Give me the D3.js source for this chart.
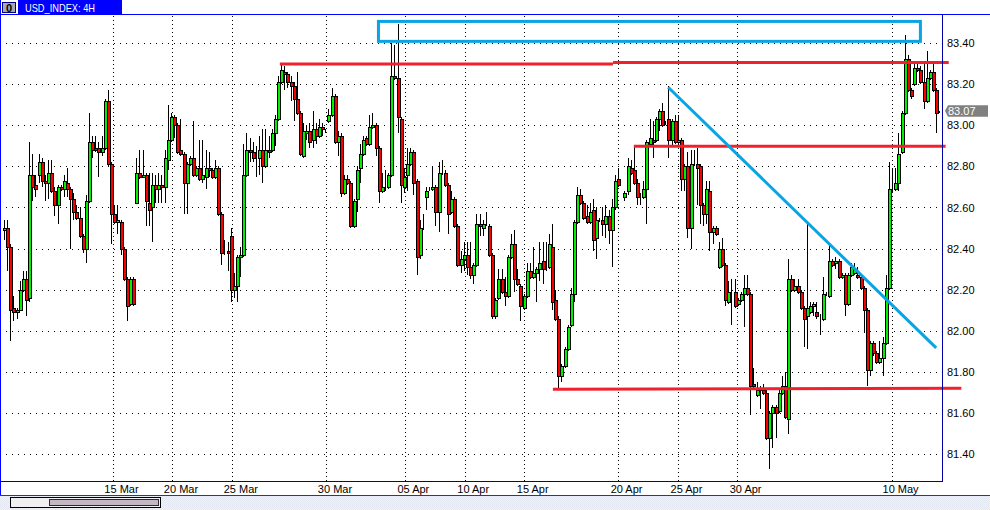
<!DOCTYPE html>
<html>
<head>
<meta charset="utf-8">
<script src="https://cdn.jsdelivr.net/npm/d3@7"></script>
<style>
    html, body { margin: 0; padding: 0; background: #fff; overflow: hidden; }
    svg { display: block; }
    text { font-family: "Liberation Sans", Arial, sans-serif; font-size: 11px; fill: #000; }
    .axis path, .axis line { display: none; }
    .grid path { display: none; }
    .grid line { stroke: #000; stroke-width: 1; shape-rendering: crispEdges; }
    .grid text { display: none; }
</style>
</head>
<body>
<svg id="chart" width="990" height="510"></svg>
<script>
// Candles, one entry per 4H bar
const opens = [82.49,82.50,82.41,82.11,82.09,82.10,82.20,82.25,82.16,82.76,
82.71,82.76,82.82,82.73,82.72,82.77,82.68,82.61,82.70,82.69,
82.72,82.69,82.64,82.58,82.55,82.46,82.40,82.63,82.92,82.89,
82.89,82.87,82.89,83.12,82.81,82.57,82.53,82.53,82.40,82.25,
82.13,82.25,82.62,82.77,82.75,82.76,82.62,82.60,82.71,82.69,
82.71,82.70,82.83,82.93,83.04,83.00,82.88,82.86,82.72,82.81,
82.84,82.76,82.79,82.74,82.75,82.79,82.78,82.75,82.79,82.57,
82.38,82.39,82.46,82.20,82.22,
82.36,82.37,82.76,82.88,82.87,82.84,82.84,82.88,82.80,82.88,
82.88,82.96,83.03,83.21,83.26,83.25,83.21,83.19,83.13,83.06,
82.85,82.96,82.97,82.93,82.98,82.95,82.99,82.98,83.02,83.05,
83.14,82.92,82.95,82.67,82.74,82.72,82.51,82.64,82.79,82.86,
82.94,82.91,82.99,83.00,82.89,82.68,82.70,82.70,82.76,83.24,
83.23,83.03,82.70,82.76,82.81,82.87,82.73,82.37,82.50,82.65,
82.69,82.69,82.70,82.58,82.77,82.77,82.71,82.58,82.64,82.51,
82.32,82.35,82.37,
82.31,82.27,82.32,82.52,82.50,82.52,82.51,82.37,82.07,82.16,82.25,82.19,
82.17,82.36,82.42,82.25,82.22,82.11,82.17,82.29,82.26,82.28,
82.30,82.34,82.30,82.31,82.41,82.15,82.06,81.78,81.83,81.91,
82.03,82.18,82.53,82.66,82.62,82.56,82.53,82.59,82.45,82.54,
82.54,82.52,82.56,82.49,82.60,82.74,82.75,82.65,82.68,82.79,
82.78,82.72,82.65,82.65,82.69,82.91,82.93,82.93,83.03,83.07,
83.01,83.03,82.93,83.02,82.92,82.93,82.74,82.80,82.50,82.81,
82.81,82.80,82.61,82.57,82.68,82.48,82.50,
82.31,82.40,82.32,
82.14,82.19,82.19,82.13,82.15,82.18,82.21,82.18,81.74,81.69,
81.71,81.71,81.70,81.48,81.60,81.63,81.61,81.70,81.73,81.57,
82.25,82.20,82.22,82.19,82.11,82.07,82.09,82.12,82.09,82.07,
82.06,82.18,82.17,82.34,82.33,82.34,82.26,82.27,82.13,82.27,
82.28,82.27,82.26,82.21,82.10,81.81,81.94,81.89,81.85,81.87,
81.94,82.21,82.69,82.69,82.72,82.87,83.06,83.32,83.17,83.20,
83.28,83.27,83.21,83.12,83.23,83.26,83.17,83.06];

const highs = [82.54,82.54,82.42,82.17,82.11,82.24,82.29,82.29,82.92,82.86,
82.76,82.86,82.84,82.76,82.83,82.83,82.70,82.71,82.71,82.76,
82.79,82.70,82.67,82.61,82.60,82.47,82.66,83.06,82.95,82.95,
82.92,82.95,83.13,83.17,82.82,82.61,82.61,82.54,82.41,82.26,
82.26,82.26,82.84,82.88,82.88,82.77,82.77,82.77,82.76,82.77,
82.76,82.88,83.10,83.06,83.05,83.01,83.03,82.87,82.82,82.85,
83.02,82.80,82.93,82.93,82.88,82.87,82.79,82.83,82.80,82.58,
82.44,82.43,82.50,82.28,82.37,
82.41,82.91,82.96,82.94,82.92,82.90,82.95,82.98,82.98,82.95,
82.98,83.05,83.24,83.30,83.29,83.26,83.24,83.21,83.26,83.07,
83.01,83.00,83.01,83.07,83.01,83.03,83.01,82.98,83.08,83.18,
83.15,82.97,82.96,82.76,82.76,82.73,82.64,82.80,82.91,82.95,
82.95,83.05,83.06,83.01,82.90,82.77,82.78,82.77,83.40,83.39,
83.49,83.04,82.79,82.89,82.89,82.88,82.74,82.54,82.57,82.70,
82.70,82.80,82.71,82.82,82.83,82.78,82.72,82.68,82.65,82.52,
82.39,82.43,82.43,
82.43,82.33,82.57,82.57,82.54,82.58,82.52,82.38,82.16,82.30,82.30,82.26,
82.37,82.47,82.49,82.30,82.23,82.18,82.33,82.33,82.41,82.31,
82.43,82.43,82.43,82.47,82.52,82.20,82.07,81.84,81.92,82.03,
82.21,82.54,82.70,82.69,82.63,82.61,82.62,82.64,82.60,82.55,
82.60,82.61,82.59,82.64,82.76,82.79,82.75,82.68,82.84,82.83,
82.90,82.74,82.67,82.73,82.93,83.03,83.02,83.04,83.08,83.11,
83.02,83.19,83.03,83.05,83.05,82.94,82.81,82.87,82.88,82.88,
82.89,82.81,82.62,82.73,82.73,82.51,82.51,
82.43,82.45,82.33,
82.24,82.25,82.25,82.16,82.19,82.27,82.27,82.19,81.82,81.75,
81.73,81.74,81.71,81.61,81.64,81.64,81.71,81.78,81.80,82.35,
82.27,82.25,82.25,82.20,82.12,82.52,82.14,82.14,82.14,82.08,
82.26,82.19,82.42,82.35,82.36,82.35,82.28,82.28,82.28,82.33,
82.33,82.31,82.27,82.22,82.11,81.95,81.95,81.90,81.95,81.97,
82.27,82.82,82.79,82.79,82.96,83.07,83.44,83.34,83.18,83.30,
83.30,83.29,83.30,83.36,83.27,83.31,83.18,83.07];

const lows = [82.44,82.29,81.95,82.05,82.06,82.10,82.19,82.07,82.14,82.63,
82.65,82.72,82.70,82.63,82.64,82.67,82.56,82.52,82.68,82.65,
82.65,82.40,82.54,82.54,82.45,82.38,82.33,82.62,82.84,82.87,
82.75,82.85,82.88,82.80,82.42,82.52,82.47,82.37,82.24,82.05,
82.12,82.12,82.62,82.74,82.75,82.51,82.51,82.43,82.62,82.62,
82.62,82.62,82.78,82.92,82.94,82.86,82.85,82.57,82.57,82.80,
82.75,82.75,82.73,82.72,82.69,82.75,82.74,82.74,82.56,82.32,
82.37,82.29,82.14,82.16,82.14,
82.26,82.36,82.75,82.82,82.82,82.75,82.76,82.72,82.79,82.84,
82.87,82.90,83.02,83.20,83.17,83.18,83.12,83.02,83.05,82.85,
82.84,82.93,82.89,82.89,82.91,82.94,82.95,82.96,83.01,83.04,
82.91,82.85,82.65,82.66,82.71,82.50,82.50,82.58,82.72,82.85,
82.90,82.90,82.98,82.85,82.62,82.67,82.68,82.69,82.75,83.22,
82.96,82.62,82.67,82.68,82.80,82.66,82.27,82.35,82.49,82.59,
82.68,82.68,82.51,82.48,82.76,82.70,82.47,82.57,82.50,82.31,
82.28,82.29,82.27,
82.25,82.23,82.31,82.46,82.46,82.51,82.36,82.06,82.06,82.15,82.18,82.12,
82.16,82.35,82.19,82.22,82.05,82.10,82.16,82.25,82.25,82.14,
82.24,82.23,82.29,82.30,82.10,82.05,81.72,81.75,81.82,81.90,
82.02,82.14,82.52,82.61,82.54,82.52,82.52,82.39,82.35,82.53,
82.46,82.45,82.42,82.31,82.59,82.70,82.75,82.63,82.66,82.76,
82.71,82.61,82.61,82.64,82.52,82.90,82.84,82.92,82.97,82.99,
83.00,82.84,82.90,82.91,82.91,82.68,82.68,82.45,82.40,82.80,
82.61,82.52,82.51,82.52,82.39,82.42,82.46,
82.30,82.31,82.12,
82.13,82.03,82.11,82.12,82.14,82.02,82.17,81.59,81.72,81.68,
81.62,81.69,81.47,81.33,81.43,81.48,81.60,81.69,81.57,81.50,
82.19,82.19,82.18,82.10,81.92,81.91,82.08,82.07,82.06,81.98,
82.05,82.17,82.16,82.31,82.30,82.25,82.25,82.07,82.12,82.26,
82.27,82.25,82.20,81.99,81.73,81.78,81.88,81.84,81.84,81.78,
81.93,82.20,82.67,82.68,82.68,82.86,83.05,83.16,83.13,83.19,
83.26,83.20,83.08,83.11,83.22,83.16,82.96,83.06];

const closes = [82.50,82.41,82.10,82.09,82.10,82.20,82.25,82.15,82.76,82.70,
82.69,82.82,82.73,82.72,82.77,82.68,82.61,82.70,82.69,82.73,
82.69,82.64,82.58,82.55,82.46,82.40,82.63,82.92,82.88,82.88,
82.87,82.89,83.12,82.81,82.57,82.53,82.54,82.40,82.25,82.12,
82.25,82.13,82.77,82.75,82.76,82.63,82.59,82.71,82.69,82.71,
82.70,82.84,82.93,83.04,83.00,82.87,82.86,82.72,82.81,82.84,
82.76,82.79,82.74,82.76,82.79,82.78,82.75,82.79,82.57,82.38,
82.38,82.38,82.20,82.22,82.36,
82.37,82.76,82.88,82.87,82.84,82.84,82.88,82.80,82.88,82.87,
82.96,83.03,83.21,83.27,83.25,83.21,83.19,83.13,83.06,82.86,
82.97,82.97,82.92,82.98,82.95,82.99,82.98,82.98,83.05,83.14,
82.92,82.95,82.67,82.74,82.72,82.51,82.63,82.78,82.86,82.93,
82.91,82.99,83.00,82.89,82.68,82.70,82.70,82.76,83.24,83.23,
83.04,82.71,82.75,82.81,82.87,82.72,82.36,82.50,82.50,82.68,
82.69,82.70,82.58,82.77,82.77,82.71,82.57,82.64,82.51,82.32,
82.35,82.37,82.31,
82.27,82.32,82.52,82.51,82.52,82.52,82.37,82.07,82.15,82.25,82.19,82.17,
82.36,82.42,82.25,82.23,82.12,82.17,82.29,82.26,82.28,82.30,
82.33,82.30,82.30,82.42,82.14,82.06,81.78,81.83,81.91,82.02,
82.18,82.53,82.66,82.62,82.55,82.53,82.58,82.44,82.54,82.54,
82.52,82.56,82.49,82.60,82.73,82.71,82.75,82.67,82.80,82.77,
82.72,82.65,82.65,82.69,82.92,82.94,82.92,83.03,83.07,83.00,
83.01,82.93,83.02,82.92,82.93,82.74,82.80,82.50,82.81,82.81,
82.79,82.61,82.57,82.69,82.48,82.50,82.47,
82.40,82.32,82.15,
82.19,82.19,82.12,82.15,82.18,82.21,82.18,81.73,81.73,81.71,
81.72,81.70,81.48,81.60,81.63,81.60,81.70,81.73,81.58,82.25,
82.20,82.22,82.19,82.11,82.06,82.11,82.12,82.13,82.07,82.07,
82.18,82.18,82.34,82.32,82.34,82.26,82.27,82.13,82.27,82.31,
82.30,82.26,82.21,82.10,81.81,81.94,81.89,81.85,81.87,81.94,
82.21,82.69,82.69,82.72,82.86,83.06,83.32,83.17,83.14,83.28,
83.27,83.21,83.12,83.23,83.26,83.17,83.06,83.06];

// Axis ticks
const priceTicks = [83.4,83.2,83.0,82.8,82.6,82.4,82.2,82.0,81.8,81.6,81.4];
const dateLabels = ["15 Mar","20 Mar","25 Mar","30 Mar","05 Apr","10 Apr","15 Apr","20 Apr","25 Apr","30 Apr","10 May"];
const dateBars = [34.6,53.5,72.5,102.4,127.3,146.3,165.2,195,214,232.8,282];

// Drawn-on studies: [bar, price, bar, price]
const redLines = [
    [87.6,83.298,193.4,83.298],
    [193.4,83.305,300,83.305],
    [200,82.898,299,82.898],
    [174.3,81.716,304,81.721]
];
const trendLine = [210.9,83.185,296,81.917];
const targetBox = [118.9,83.505,291,83.408];
const lastPrice = 83.07;

const width = 990;
const height = 510;
const plotTop = 15;
const plotBottom = 481;
const plotRight = 942;

const green = "#00f000";
const red = "#f80000";
const studyRed = "#f0202c";
const studyBlue = "#08a4e4";
const frameBlue = "#0000a8";

const svg = d3.select("#chart");

const xScale = d3.scaleLinear()
    .domain([0, opens.length - 1])
    .range([4, 939.3]);

const yScale = d3.scaleLinear()
    .domain([83.4, 81.4])
    .range([43, 454.2]);

// Bottom strip pattern
const defs = svg.append("defs");
const speckle = defs.append("pattern")
    .attr("id", "speckle")
    .attr("width", 2).attr("height", 2)
    .attr("patternUnits", "userSpaceOnUse");
speckle.append("rect").attr("width", 2).attr("height", 2).attr("fill", "#f4f2ee");
speckle.append("rect").attr("width", 1).attr("height", 1).attr("fill", "#e2e6f0");
speckle.append("rect").attr("x", 1).attr("y", 1).attr("width", 1).attr("height", 1).attr("fill", "#e6ece4");

// Grid
svg.append("g")
    .attr("class", "grid")
    .attr("transform", `translate(${plotRight - 5},0)`)
    .call(d3.axisLeft(yScale).tickValues(priceTicks).tickSize(plotRight - 11).tickFormat(""))
    .selectAll("line")
    .attr("stroke-dasharray", "1,5");

svg.append("g")
    .attr("class", "grid")
    .attr("transform", `translate(0,${plotBottom})`)
    .call(d3.axisBottom(xScale).tickValues(dateBars).tickSize(plotTop - plotBottom).tickFormat(""))
    .selectAll("line")
    .attr("stroke-dasharray", "1,3");

// Candles
const bars = opens.map((o, i) => ({ i, o, h: highs[i], l: lows[i], c: closes[i] }));

const candle = svg.append("g")
    .attr("shape-rendering", "crispEdges")
    .selectAll("g")
    .data(bars)
    .join("g")
    .attr("transform", d => `translate(${Math.round(xScale(d.i))},0)`);

candle.append("line")
    .attr("x1", 0.5).attr("x2", 0.5)
    .attr("y1", d => Math.round(yScale(d.h)))
    .attr("y2", d => Math.round(yScale(d.l)))
    .attr("stroke", "#000");

candle.append("rect")
    .attr("x", -1)
    .attr("width", 3)
    .attr("y", d => Math.round(yScale(Math.max(d.o, d.c))) + 0.5)
    .attr("height", d => Math.round(yScale(Math.min(d.o, d.c))) - Math.round(yScale(Math.max(d.o, d.c))))
    .attr("fill", d => d.c >= d.o ? green : red)
    .attr("stroke", "#000");

// Studies
svg.append("g")
    .selectAll("line")
    .data(redLines)
    .join("line")
    .attr("x1", d => xScale(d[0]))
    .attr("y1", d => yScale(d[1]))
    .attr("x2", d => xScale(d[2]))
    .attr("y2", d => yScale(d[3]))
    .attr("stroke", studyRed)
    .attr("stroke-width", 3);

svg.append("line")
    .attr("x1", xScale(trendLine[0]))
    .attr("y1", yScale(trendLine[1]))
    .attr("x2", xScale(trendLine[2]))
    .attr("y2", yScale(trendLine[3]))
    .attr("stroke", studyBlue)
    .attr("stroke-width", 3);

svg.append("rect")
    .attr("x", xScale(targetBox[0]))
    .attr("y", yScale(targetBox[1]))
    .attr("width", xScale(targetBox[2]) - xScale(targetBox[0]))
    .attr("height", yScale(targetBox[3]) - yScale(targetBox[1]))
    .attr("fill", "none")
    .attr("stroke", studyBlue)
    .attr("stroke-width", 3);

// Price axis
const yAxis = d3.axisRight(yScale)
    .tickValues(priceTicks)
    .tickSize(0)
    .tickPadding(5)
    .tickFormat(d3.format(".2f"));

svg.append("g")
    .attr("class", "axis")
    .attr("transform", `translate(${plotRight},0)`)
    .call(yAxis);

// Date axis
const xAxis = d3.axisBottom(xScale)
    .tickValues(dateBars)
    .tickSize(0)
    .tickPadding(4)
    .tickFormat((d, i) => dateLabels[i]);

svg.append("g")
    .attr("class", "axis")
    .attr("transform", `translate(0,${plotBottom})`)
    .call(xAxis)
    .selectAll("text")
    .attr("dx", 8);

svg.selectAll(".axis").attr("font-family", null).attr("font-size", null);

// Last price tag
const tagY = yScale(lastPrice);
svg.append("path")
    .attr("d", `M945,${tagY} L948,${tagY - 5.5} H988 V${tagY + 6} H948 Z`)
    .attr("fill", "#808080");
svg.append("text")
    .attr("x", 948)
    .attr("y", tagY)
    .attr("dy", "0.36em")
    .style("fill", "#fff")
    .text(d3.format(".2f")(lastPrice));

// Window frame
const frame = svg.append("g").attr("shape-rendering", "crispEdges");
frame.append("rect").attr("x", 0).attr("y", 496).attr("width", width).attr("height", height - 496).attr("fill", "url(#speckle)");
frame.append("rect").attr("x", 0).attr("y", 0).attr("width", 1).attr("height", 496).attr("fill", "#0000ff");
frame.append("rect").attr("x", 0).attr("y", 14).attr("width", width).attr("height", 1).attr("fill", "#0000ff");
frame.append("rect").attr("x", plotRight).attr("y", plotTop).attr("width", 1).attr("height", plotBottom - plotTop).attr("fill", frameBlue);
frame.append("rect").attr("x", 0).attr("y", plotBottom).attr("width", plotRight + 1).attr("height", 1).attr("fill", frameBlue);
frame.append("rect").attr("x", 0).attr("y", 495).attr("width", width).attr("height", 1).attr("fill", "#1040a0");

// Title bar
frame.append("rect").attr("x", 18).attr("y", 0).attr("width", 104).attr("height", 14).attr("fill", "#0000ff");
frame.append("rect").attr("x", 2.5).attr("y", 2.5).attr("width", 13).attr("height", 10).attr("fill", "#a8a8b0").attr("stroke", "#000080");
svg.append("text").attr("x", 9).attr("y", 12).attr("text-anchor", "middle").style("font-weight", "bold").text("0");
svg.append("text")
    .attr("x", 25).attr("y", 12)
    .attr("textLength", 70)
    .attr("lengthAdjust", "spacingAndGlyphs")
    .style("fill", "#fff")
    .text("USD_INDEX: 4H");

// Scrollbar
frame.append("rect").attr("x", 10.5).attr("y", 497.5).attr("width", 150).attr("height", 10).attr("fill", "#f0f0f0").attr("stroke", "#000");
frame.append("rect").attr("x", 49.5).attr("y", 499.5).attr("width", 109).attr("height", 6).attr("fill", "#c4b8c4").attr("stroke", "#302830");
</script>
</body>
</html>
